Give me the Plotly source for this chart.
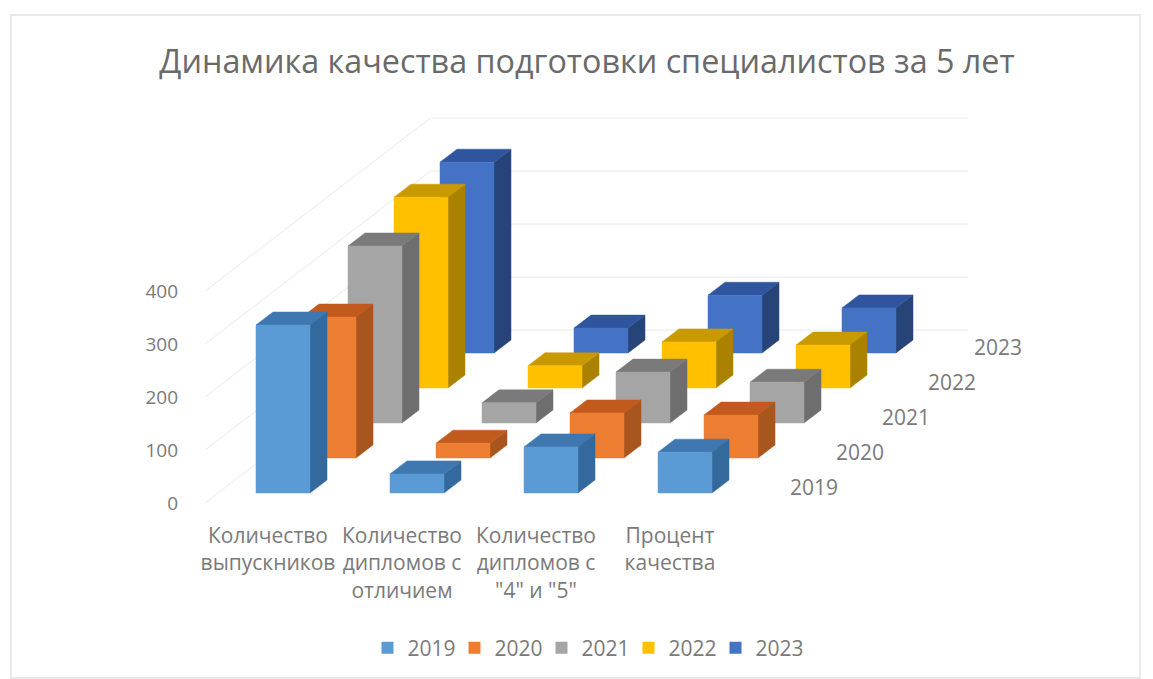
import plotly.graph_objects as go

categories = ['Количество<br>выпускников', 'Количество<br>дипломов с<br>отличием',
              'Количество<br>дипломов с<br>"4" и "5"', 'Процент<br>качества']
years = ['2019', '2020', '2021', '2022', '2023']
v2019 = [317, 36, 87, 77]
v2020 = [266, 28, 85, 81]
v2021 = [334, 38, 96, 77]
v2022 = [360, 42, 87, 81]
v2023 = [360, 47, 109, 85]
series = [v2019, v2020, v2021, v2022, v2023]
y_ticks = [0, 100, 200, 300, 400]

front = ['#5B9BD5', '#ED7D31', '#A5A5A5', '#FFC000', '#4472C4']
top = ['#3F78B0', '#C15A1C', '#7A7A7A', '#C99A00', '#2F559E']
side = ['#33699C', '#A9561E', '#6E6E6E', '#AB8200', '#264478']

PAGE = 8  # default body margin of the page
W, H = 1153 - PAGE, 679 - PAGE
# geometry of the oblique projection, in page pixels
PX_CAT, PX_UNIT = 134.0, 0.53
LEFT, RIGHT, TOP, BOTTOM = 195, 1020, 100, 503
ROW_DX, ROW_DY = 46.0, 35.0
DEPTH_DX, DEPTH_DY = 17.0, 13.0
BAR_W = 54.0
INSET_X, INSET_Y = 51.0, 10.0
FLOOR_X0 = 205.0

ux = lambda px: px / PX_CAT        # px -> category units
uy = lambda px: px / PX_UNIT       # px -> value units
x_off = FLOOR_X0 - LEFT

fig = go.Figure()

# walls: gridlines
floor_w = ux(PX_CAT * len(categories))
back_dx, back_dy = ux(ROW_DX * 4.9), uy(ROW_DY * 4.94)
gx, gy = [], []
x0 = ux(x_off)
for t in y_ticks:
    gx += [x0, x0 + back_dx, x0 + back_dx + floor_w + ux(2), None]
    gy += [t, t + back_dy, t + back_dy, None]
fig.add_trace(go.Scatter(x=gx, y=gy, mode='lines', line=dict(color='#E8E8E8', width=1),
                         hoverinfo='skip', showlegend=False))

# bars, painted back to front
for r in range(len(years) - 1, -1, -1):
    sx, sy, tx, ty, fx, fy = [], [], [], [], [], []
    for c, v in enumerate(series[r]):
        xl = x0 + c + ux(INSET_X + r * ROW_DX)
        xr = xl + ux(BAR_W)
        b = uy(INSET_Y + r * ROW_DY)
        h = b + v
        dx, dy = ux(DEPTH_DX), uy(DEPTH_DY)
        fx += [xl, xr, xr, xl, xl, None]
        fy += [b, b, h, h, b, None]
        tx += [xl, xr, xr + dx, xl + dx, xl, None]
        ty += [h, h, h + dy, h + dy, h, None]
        sx += [xr, xr + dx, xr + dx, xr, xr, None]
        sy += [b, b + dy, h + dy, h, b, None]
    for px_, py_, col in [(sx, sy, side[r]), (tx, ty, top[r]), (fx, fy, front[r])]:
        fig.add_trace(go.Scatter(x=px_, y=py_, mode='lines', fill='toself', fillcolor=col,
                                 line=dict(color=col, width=0.5), hoverinfo='skip', showlegend=False))

# legend entries
for r, y in enumerate(years):
    fig.add_trace(go.Scatter(x=[None], y=[None], mode='markers', name=y,
                             marker=dict(symbol='square', size=12, color=front[r])))

# depth-axis labels
annos = []
for r, y in enumerate(years):
    annos.append(dict(x=x0 + floor_w + ux(73 + r * ROW_DX), y=uy(16 + r * ROW_DY), text=y,
                      showarrow=False, xref='x', yref='y',
                      font=dict(family='Open Sans', size=21, color='#7A7A7A')))

fig.update_layout(
    width=W, height=H, paper_bgcolor='white', plot_bgcolor='white',
    margin=dict(l=LEFT - PAGE, r=1153 - RIGHT, t=TOP - PAGE, b=679 - BOTTOM, autoexpand=False),
    title=dict(text='Динамика качества подготовки специалистов за 5 лет', xref='container', yref='container',
               x=(587 - PAGE) / W, xanchor='center', y=1 - (62 - PAGE) / H, yanchor='middle',
               font=dict(family='Open Sans', size=32.3, color='#6A6A6A')),
    xaxis=dict(range=[0, ux(RIGHT - LEFT)], tickmode='array',
               tickvals=[x0 + c + 0.47 for c in range(len(categories))], ticktext=categories,
               tickangle=0, showgrid=False, zeroline=False, showline=False, ticks='',
               ticklabelstandoff=18,
               tickfont=dict(family='Open Sans', size=21, color='#7A7A7A')),
    yaxis=dict(range=[0, uy(BOTTOM - TOP)], tickmode='array', tickvals=y_ticks,
               showgrid=False, zeroline=False, showline=False, ticks='',
               ticklabelstandoff=16,
               tickfont=dict(family='Open Sans', size=19, color='#7A7A7A')),
    legend=dict(orientation='h', x=(585 - PAGE) / W, xref='container', xanchor='center',
                y=1 - (648 - PAGE) / H, yref='container', yanchor='middle',
                entrywidth=42, entrywidthmode='pixels', itemwidth=30, traceorder='normal',
                font=dict(family='Open Sans', size=21, color='#7A7A7A')),
    annotations=annos,
    shapes=[dict(type='rect', xref='paper', yref='paper',
                 x0=(11 - LEFT) / (RIGHT - LEFT), x1=(1140 - LEFT) / (RIGHT - LEFT),
                 y0=(BOTTOM - 678) / (BOTTOM - TOP), y1=(BOTTOM - 15) / (BOTTOM - TOP),
                 line=dict(color='#E2E2E2', width=1.5), layer='below')],
)
fig.write_html('out.html')
